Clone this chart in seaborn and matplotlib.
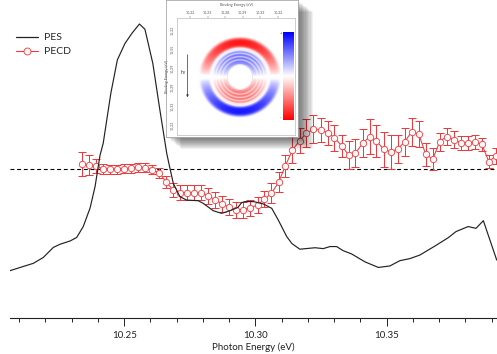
import numpy as np
import pandas as pd
import seaborn as sns
import matplotlib
matplotlib.use("Agg")
import matplotlib.pyplot as plt
from matplotlib.patches import Rectangle
from matplotlib.lines import Line2D

# ---------------- data ----------------
pes_energy = [10.2065, 10.2154, 10.2192, 10.2230, 10.2256, 10.2294, 10.2319, 10.2344, 10.2370,
              10.2389, 10.2408, 10.2420, 10.2449, 10.2474, 10.2503, 10.2530, 10.2558, 10.2579,
              10.2609, 10.2636, 10.2662, 10.2674, 10.2687, 10.2712, 10.2738, 10.2782, 10.2801,
              10.2839, 10.2871, 10.2903, 10.2933, 10.2947, 10.2960, 10.2992, 10.3030, 10.3062,
              10.3087, 10.3119, 10.3139, 10.3169, 10.3227, 10.3258, 10.3284, 10.3309, 10.3334,
              10.3366, 10.3417, 10.3468, 10.3512, 10.3550, 10.3588, 10.3626, 10.3684, 10.3734,
              10.3764, 10.3810, 10.3840, 10.3868, 10.3919]
pes_intensity = [0.161, 0.186, 0.206, 0.240, 0.251, 0.262, 0.274, 0.311, 0.374,
                 0.447, 0.554, 0.594, 0.764, 0.878, 0.934, 0.969, 1.000, 0.982,
                 0.866, 0.707, 0.560, 0.510, 0.458, 0.413, 0.401, 0.399, 0.390,
                 0.365, 0.356, 0.365, 0.376, 0.392, 0.396, 0.396, 0.388, 0.373,
                 0.333, 0.277, 0.253, 0.234, 0.239, 0.236, 0.243, 0.243, 0.229,
                 0.218, 0.191, 0.172, 0.177, 0.195, 0.202, 0.214, 0.245, 0.273,
                 0.294, 0.311, 0.305, 0.331, 0.197]

pecd_energy = [10.2340, 10.2367, 10.2393, 10.2420, 10.2447, 10.2474, 10.2500, 10.2527, 10.2554, 10.2580,
               10.2607, 10.2634, 10.2660, 10.2687, 10.2714, 10.2741, 10.2767, 10.2794, 10.2821, 10.2847,
               10.2874, 10.2901, 10.2927, 10.2954, 10.2981, 10.3008, 10.3034, 10.3061, 10.3088, 10.3114,
               10.3141, 10.3168, 10.3194, 10.3221, 10.3248, 10.3275, 10.3301, 10.3328, 10.3355, 10.3381,
               10.3408, 10.3435, 10.3461, 10.3488, 10.3515, 10.3542, 10.3568, 10.3595, 10.3622, 10.3648,
               10.3675, 10.3702, 10.3728, 10.3755, 10.3782, 10.3809, 10.3835, 10.3862, 10.3889, 10.3915]
pecd_value = [0.47, 0.43, 0.27, 0.03, 0.00, 0.00, 0.03, 0.10, 0.20, 0.13,
              -0.07, -0.40, -1.30, -2.13, -2.38, -2.35, -2.35, -2.38, -2.68, -3.10,
              -3.50, -3.83, -4.08, -4.05, -3.85, -3.60, -3.02, -2.43, -1.33, 0.33,
              1.90, 2.83, 3.57, 3.97, 3.90, 3.63, 3.13, 2.33, 1.40, 1.57,
              2.57, 3.23, 2.80, 1.97, 1.73, 2.00, 2.70, 3.73, 3.48, 1.50,
              0.98, 2.75, 3.25, 2.93, 2.65, 2.65, 2.67, 2.50, 0.73, 1.30]
pecd_error = [1.20, 1.00, 0.70, 0.50, 0.45, 0.45, 0.45, 0.45, 0.45, 0.45,
              0.45, 0.50, 0.60, 0.70, 0.75, 0.75, 0.75, 0.75, 0.80, 0.80,
              0.80, 0.80, 0.80, 0.80, 0.80, 0.80, 0.80, 1.00, 1.00, 1.10,
              1.30, 1.25, 1.40, 1.40, 1.20, 1.20, 1.30, 1.10, 1.40, 1.40,
              1.40, 1.75, 1.60, 1.75, 1.70, 1.40, 1.40, 1.40, 1.30, 1.15,
              1.10, 0.90, 0.83, 0.83, 0.70, 0.70, 0.70, 0.65, 0.67, 0.80]

xticks_major = [10.25, 10.30, 10.35]
xtick_labels = ["10.25", "10.30", "10.35"]
inset_top_labels = ["10,22", "10,23", "10,28", "10,29", "10,33", "10,22"]
inset_left_labels = ["10,22", "10,55", "10,29", "10,29", "10,33", "10,22"]

# ---------------- style ----------------
sns.set_theme(style="white")
plt.rcParams["font.family"] = ["Lato", "DejaVu Sans"]

W, H = 497, 354
fig = plt.figure(figsize=(W / 100, H / 100), dpi=100)


def fx(px):
    return px / W


def fy(py):
    return 1 - py / H


ax = fig.add_axes([fx(10), fy(318), fx(487), 318 / H])
ax2 = ax.twinx()

red = "#ec3b3f"
face = "#fff6f6"
pecd_df = pd.DataFrame({"E": pecd_energy, "PECD": pecd_value, "err": pecd_error})
pes_df = pd.DataFrame({"E": pes_energy, "PES": pes_intensity})

ax.axhline(0, color="black", lw=0.8, ls=(0, (3.5, 2.5)), zorder=1)
ax.errorbar(pecd_df["E"], pecd_df["PECD"], yerr=pecd_df["err"], fmt="none",
            ecolor=red, elinewidth=0.75, capsize=3.2, capthick=0.75, zorder=2)
sns.lineplot(data=pecd_df, x="E", y="PECD", ax=ax, color=red, lw=0.75,
             marker="o", markersize=4.6, markerfacecolor=face,
             markeredgecolor=red, markeredgewidth=0.6, estimator=None,
             sort=False, zorder=3, legend=False)

sns.lineplot(data=pes_df, x="E", y="PES", ax=ax2, color="#222222", lw=0.85,
             estimator=None, sort=False, legend=False)

ax.set_xlim(10.2065, 10.3920)
ax.set_ylim(-14.9, 16.9)
ax2.set_ylim(0, 318 / 294)

for a in (ax, ax2):
    a.set_yticks([])
    a.set_ylabel("")
    for s in ("top", "right", "left"):
        a.spines[s].set_visible(False)
ax2.spines["bottom"].set_visible(False)
ax.spines["bottom"].set_color("#222222")
ax.spines["bottom"].set_linewidth(0.8)

ax.set_xticks(xticks_major)
ax.set_xticklabels(xtick_labels)
ax.set_xticks(np.round(np.arange(10.21, 10.395, 0.01), 2), minor=True)
ax.tick_params(axis="x", which="major", direction="out", length=6, width=0.7,
               labelsize=7, pad=3, bottom=True, colors="#222222")
ax.tick_params(axis="x", which="minor", direction="out", length=3, width=0.7,
               bottom=True, colors="#222222")
ax.set_xlabel("Photon Energy (eV)", fontsize=7, labelpad=2, color="#222222")

handles = [Line2D([], [], color="#222222", lw=0.9),
           Line2D([], [], color=red, lw=0.8, marker="o", markersize=5,
                  markerfacecolor=face, markeredgecolor=red, markeredgewidth=0.6)]
fig.legend(handles, ["PES", "PECD"], loc="upper left",
           bbox_to_anchor=(fx(16), fy(33)), frameon=False, fontsize=7.5,
           handlelength=2.1, handletextpad=0.55, borderpad=0, borderaxespad=0,
           labelspacing=0.45)

# ---------------- inset ----------------
px0, px1, py0, py1 = 166, 298, 0, 137
for i in range(12):
    off = 1.0 + i * 1.3
    fig.patches.append(Rectangle((fx(px0 + off), fy(py1 + off * 0.8)),
                                 (px1 - px0) / W, (py1 - py0) / H,
                                 transform=fig.transFigure, facecolor="black",
                                 edgecolor="none", alpha=0.055, zorder=1))

panel = fig.add_axes([fx(px0), fy(py1), (px1 - px0) / W, (py1 - py0) / H], zorder=5)
panel.set_facecolor("white")
panel.set_xticks([])
panel.set_yticks([])
for s in panel.spines.values():
    s.set_color("#aaaaaa")
    s.set_linewidth(0.6)

ix0, ix1, iy0, iy1 = 177, 295, 18, 135
inner = fig.add_axes([fx(ix0), fy(iy1), (ix1 - ix0) / W, (iy1 - iy0) / H], zorder=6)
inner.set_xlim(ix0, ix1)
inner.set_ylim(iy1, iy0)
inner.set_facecolor("white")
for s in inner.spines.values():
    s.set_color("#bbbbbb")
    s.set_linewidth(0.5)
tpos = np.linspace(190, 278, 6)
inner.set_xticks(tpos)
inner.set_xticklabels(inset_top_labels)
inner.xaxis.tick_top()
inner.set_yticks(np.linspace(30, 125, 6))
inner.set_yticklabels(inset_left_labels, rotation=90, va="center")
inner.tick_params(axis="both", length=1.2, width=0.3, labelsize=2.6, pad=1,
                  colors="#555555")
inner.set_title("Binding Energy (eV)", fontsize=2.8, pad=3.5, color="#555555")
inner.set_ylabel("Binding Energy (eV)", fontsize=2.8, labelpad=1, color="#555555")

# ring image (velocity-map-like pattern)
n = 241
g = np.linspace(-1, 1, n)
xx, yy = np.meshgrid(g, -g)
r = np.hypot(xx, yy)
ang = np.divide(yy, r, out=np.zeros_like(r), where=r > 0)
amp = np.sign(ang) * np.clip((np.abs(ang) - 0.06) / 0.94, 0, 1) ** 0.7
outer = -0.9 * np.exp(-((r - 0.84) / 0.12) ** 4)
inner_band = 0.55 * np.exp(-((r - 0.48) / 0.2) ** 4)
radial = outer + inner_band
for rr, w in [(0.66, 0.025), (0.58, 0.015), (0.50, 0.015), (0.42, 0.015)]:
    radial = radial * (1 - 0.8 * np.exp(-((r - rr) / w) ** 2))
img = radial * amp
img[(r > 1.0) | (r < 0.29)] = np.nan
img_rgba = plt.get_cmap("bwr_r")((np.nan_to_num(img) + 1) / 2)
img_rgba[np.isnan(img)] = [1, 1, 1, 0]
inner.imshow(img_rgba, extent=(198, 282, 118, 36), origin="upper",
             interpolation="bilinear", aspect="auto", zorder=1)
inner.add_patch(plt.Circle((240, 77), 12.5, fill=False, color="#e6e6e6", lw=0.6))

# colorbar strip
cb = np.linspace(1, -1, 100)[:, None]
inner.imshow(cb, extent=(283, 294, 120, 32), origin="upper", cmap="bwr_r",
             vmin=-1, vmax=1, aspect="auto", zorder=1)
inner.set_xlim(ix0, ix1)
inner.set_ylim(iy1, iy0)
inner.text(280.5, 33, "+", fontsize=3, ha="center", va="center", color="#333333")
inner.text(280.5, 118, "-", fontsize=3, ha="center", va="center", color="#333333")

# h-nu arrow
inner.annotate("", xy=(187.5, 100), xytext=(187.5, 52),
               arrowprops=dict(arrowstyle="-|>", lw=0.5, color="#333333",
                               mutation_scale=3))
inner.text(183.5, 72, "hν", fontsize=3.5, ha="center", va="center", color="#333333")

fig.savefig("out.png", dpi=100)
